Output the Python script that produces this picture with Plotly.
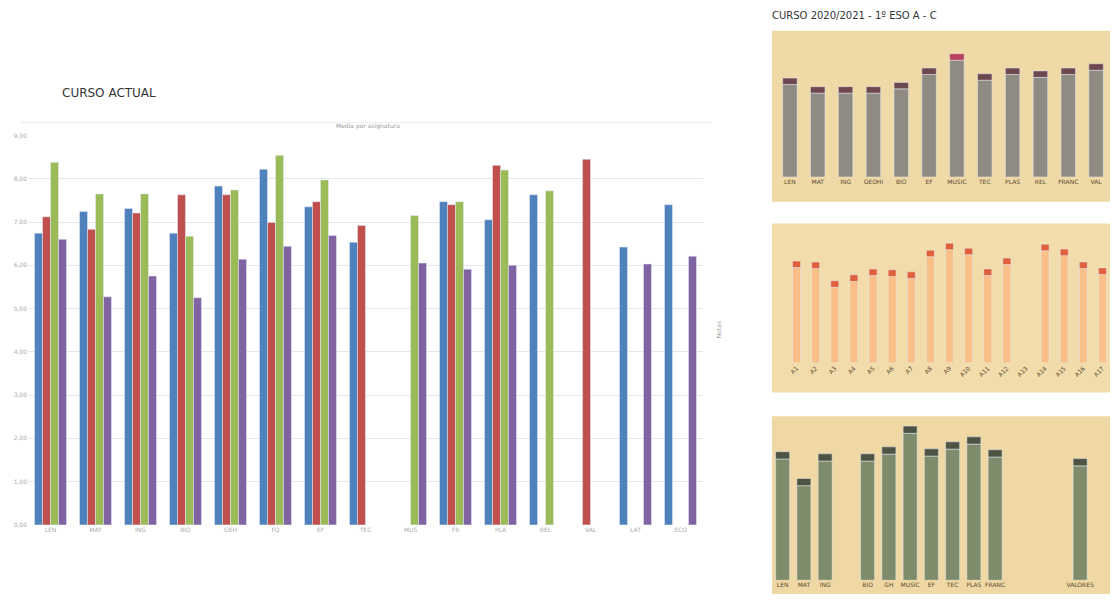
import plotly.graph_objects as go

W, H = 1112, 606

# ---- left chart: current course, 4 series per subject
subjects = ["LEN", "MAT", "ING", "BIO", "GEH", "FQ", "EF", "TEC",
            "MUS", "FR", "PLA", "REL", "VAL", "LAT", "ECO"]
serie_1 = [6.74, 7.24, 7.31, 6.74, 7.83, 8.22, 7.35, 6.53, None, 7.47, 7.05, 7.63, None, 6.42, 7.40]
serie_2 = [7.12, 6.83, 7.21, 7.63, 7.63, 6.99, 7.47, 6.92, None, 7.40, 8.31, None, 8.45, None, None]
serie_3 = [8.38, 7.65, 7.65, 6.67, 7.74, 8.54, 7.97, None, 7.15, 7.47, 8.20, 7.72, None, None, None]
serie_4 = [6.60, 5.27, 5.75, 5.25, 6.14, 6.44, 6.69, None, 6.05, 5.91, 6.00, None, None, 6.03, 6.21]
series_names = ["1º ESO A", "1º ESO B", "1º ESO C", "1º ESO D"]
y_ticks = [0, 1, 2, 3, 4, 5, 6, 7, 8, 9]

# ---- right panels (previous course)
p1_labels = ["LEN", "MAT", "ING", "GEOHI", "BIO", "EF", "MUSIC", "TEC", "PLAS", "REL", "FRANC", "VAL"]
p1_values = [6.9, 6.3, 6.3, 6.3, 6.6, 7.6, 8.6, 7.2, 7.6, 7.4, 7.6, 7.9]

p2_labels = ["A1", "A2", "A3", "A4", "A5", "A6", "A7", "A8", "A9", "A10", "A11", "A12",
             "A13", "A14", "A15", "A16", "A17"]
p2_values = [7.74, 7.67, 6.24, 6.69, 7.14, 7.07, 6.92, 8.57, 9.10, 8.72, 7.14, 7.97,
             None, 9.02, 8.65, 7.67, 7.22]

p3_labels = ["LEN", "MAT", "ING", " ", "BIO", "GH", "MUSIC", "EF", "TEC", "PLAS", "FRANC",
             "  ", "   ", "    ", "VALORES", "     "]
p3_values = [7.98, 6.32, 7.85, None, 7.85, 8.28, 9.57, 8.16, 8.59, 8.90, 8.10,
             None, None, None, 7.55, None]

colors = ["#4F81BD", "#C0504D", "#9BBB59", "#8064A2"]


def px_x(a, b):
    return [a / W, b / W]


def px_y(top, bottom):
    return [1 - bottom / H, 1 - top / H]


fig = go.Figure()

for name, vals, c in zip(series_names, [serie_1, serie_2, serie_3, serie_4], colors):
    fig.add_trace(go.Bar(x=subjects, y=vals, name=name, marker_color=c,
                         xaxis="x", yaxis="y", showlegend=False))


def add_panel(ax, labels, values, bar_color, cap_color, cap, width, cap_colors=None):
    main = [None if v is None else v - cap for v in values]
    fig.add_trace(go.Bar(x=labels, y=main, marker_color=bar_color, width=width,
                         offset=-width / 2, xaxis="x" + ax, yaxis="y" + ax, showlegend=False))
    caps = [None if v is None else cap for v in values]
    fig.add_trace(go.Bar(x=labels, y=caps, base=main, width=width, offset=-width / 2,
                         marker_color=cap_colors or cap_color,
                         xaxis="x" + ax, yaxis="y" + ax, showlegend=False))


p1_caps = ["#6e4850"] * len(p1_values)
p1_caps[6] = "#b8405a"
add_panel("2", p1_labels, p1_values, "#8f8b82", "#6e4850", 0.45, 0.52, p1_caps)
add_panel("3", p2_labels, p2_values, "#f9bf86", "#e0603c", 0.5, 0.42)
add_panel("4", p3_labels, p3_values, "#7f8c6c", "#4e5444", 0.45, 0.66)

tick_font = dict(family="DejaVu Sans", size=6, color="#aaaaaa")
dark_font = dict(family="DejaVu Sans", size=6, color="#5a4a30")

fig.update_layout(
    width=W, height=H,
    margin=dict(l=0, r=0, t=0, b=0),
    paper_bgcolor="white", plot_bgcolor="white",
    barmode="group", bargap=0.29, bargroupgap=0,
    xaxis=dict(domain=px_x(28, 703), showgrid=False, tickfont=tick_font,
               showline=False, ticks=""),
    yaxis=dict(domain=px_y(133, 527), range=[0, 9], tickvals=y_ticks,
               ticktext=[f"{v},00" for v in y_ticks], tickfont=tick_font,
               gridcolor="#e6e6e6", zeroline=False),
    xaxis2=dict(domain=px_x(776, 1110), anchor="y2", showgrid=False,
                tickfont=dark_font, ticks=""),
    yaxis2=dict(domain=px_y(30, 175), anchor="x2", range=[0, 10], visible=False),
    xaxis3=dict(domain=px_x(787, 1112), anchor="y3", showgrid=False,
                tickfont=dark_font, ticks="", tickangle=-45),
    yaxis3=dict(domain=px_y(230, 363), anchor="x3", range=[0, 10], visible=False),
    xaxis4=dict(domain=px_x(772, 1112), anchor="y4", showgrid=False,
                tickfont=dark_font, ticks=""),
    yaxis4=dict(domain=px_y(420, 583), anchor="x4", range=[0, 10], visible=False),
    shapes=[
        dict(type="rect", xref="paper", yref="paper", layer="below",
             x0=772 / W, x1=1110 / W, y0=1 - 200 / H, y1=1 - 27 / H,
             fillcolor="#efd9a6", line=dict(width=0)),
        dict(type="rect", xref="paper", yref="paper", layer="below",
             x0=772 / W, x1=1110 / W, y0=1 - 393 / H, y1=1 - 222 / H,
             fillcolor="#f2dcab", line=dict(width=0)),
        dict(type="rect", xref="paper", yref="paper", layer="below",
             x0=772 / W, x1=1110 / W, y0=1 - 597 / H, y1=1 - 417 / H,
             fillcolor="#efd8a4", line=dict(width=0)),
        dict(type="line", xref="paper", yref="paper", layer="below",
             x0=20 / W, x1=712 / W, y0=1 - 120 / H, y1=1 - 120 / H,
             line=dict(color="#eeeeee", width=1)),
    ],
    annotations=[
        dict(text="CURSO ACTUAL", x=60 / W, y=1 - 90 / H, xref="paper", yref="paper",
             xanchor="left", yanchor="middle", showarrow=False,
             font=dict(family="DejaVu Sans", size=12, color="#333333")),
        dict(text="Media por asignatura", x=368 / W, y=1 - 123 / H, xref="paper", yref="paper",
             xanchor="center", yanchor="middle", showarrow=False,
             font=dict(family="DejaVu Sans", size=6, color="#999999")),
        dict(text="Notas", x=718 / W, y=1 - 330 / H, xref="paper", yref="paper",
             textangle=-90, showarrow=False,
             font=dict(family="DejaVu Sans", size=6, color="#aaaaaa")),
        dict(text="CURSO 2020/2021 - 1º ESO A - C", x=770 / W, y=1 - 12 / H,
             xref="paper", yref="paper", xanchor="left", yanchor="middle", showarrow=False,
             font=dict(family="DejaVu Sans", size=10, color="#333333")),
    ],
)

fig.write_html("out.html", config={"displayModeBar": False},
               post_script="document.body.style.margin='0';document.body.style.overflow='hidden';")
